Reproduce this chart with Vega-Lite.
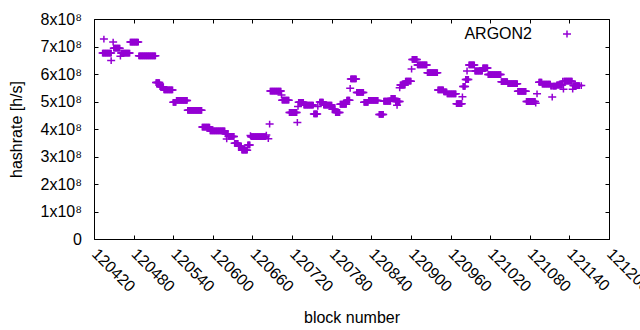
{
"$schema": "https://vega.github.io/schema/vega-lite/v6.json",
"width": 515,
"height": 220,
"autosize": {"type": "none"},
"padding": {"left": 94, "top": 19, "right": 31, "bottom": 91},
"background": "white",
"config": {
"view": {"stroke": "black", "strokeWidth": 1},
"font": "Liberation Sans",
"axis": {"labelFont": "Liberation Sans", "titleFont": "Liberation Sans", "labelFontSize": 16, "titleFontSize": 16, "titleFontWeight": "normal", "labelColor": "black", "titleColor": "black", "domain": false, "grid": false, "tickColor": "black", "tickSize": -4, "tickWidth": 1}
},
"data": {"values": [
{"b":120433,"h":6.76},{"b":120434,"h":6.76},{"b":120435,"h":6.76},{"b":120436,"h":6.76},{"b":120437,"h":6.76},{"b":120438,"h":6.76},{"b":120439,"h":6.76},{"b":120440,"h":6.76},{"b":120441,"h":6.76},{"b":120442,"h":6.76},{"b":120443,"h":6.76},{"b":120444,"h":6.76},{"b":120445,"h":6.76},{"b":120446,"h":6.76},
{"b":120435,"h":7.27},{"b":120446,"h":6.49},{"b":120449,"h":7.16},
{"b":120450,"h":6.94},{"b":120451,"h":6.94},{"b":120452,"h":6.94},{"b":120453,"h":6.94},{"b":120454,"h":6.94},{"b":120455,"h":6.94},{"b":120456,"h":6.94},{"b":120457,"h":6.94},{"b":120458,"h":6.94},{"b":120459,"h":6.94},
{"b":120460,"h":6.65},
{"b":120461,"h":6.76},{"b":120462,"h":6.76},{"b":120463,"h":6.76},{"b":120464,"h":6.76},{"b":120465,"h":6.76},{"b":120466,"h":6.76},{"b":120467,"h":6.76},{"b":120468,"h":6.76},{"b":120469,"h":6.76},{"b":120470,"h":6.76},{"b":120471,"h":6.76},{"b":120472,"h":6.76},{"b":120473,"h":6.76},{"b":120474,"h":6.76},
{"b":120475,"h":7.16},{"b":120476,"h":7.16},{"b":120477,"h":7.16},{"b":120478,"h":7.16},{"b":120479,"h":7.16},{"b":120480,"h":7.16},{"b":120481,"h":7.16},{"b":120482,"h":7.16},{"b":120483,"h":7.16},{"b":120484,"h":7.16},{"b":120485,"h":7.16},{"b":120486,"h":7.16},{"b":120487,"h":7.16},
{"b":120488,"h":6.66},{"b":120489,"h":6.66},{"b":120490,"h":6.66},{"b":120491,"h":6.66},{"b":120492,"h":6.66},{"b":120493,"h":6.66},{"b":120494,"h":6.66},{"b":120495,"h":6.66},{"b":120496,"h":6.66},{"b":120497,"h":6.66},{"b":120498,"h":6.66},{"b":120499,"h":6.66},{"b":120500,"h":6.66},{"b":120501,"h":6.66},{"b":120502,"h":6.66},{"b":120503,"h":6.66},{"b":120504,"h":6.66},{"b":120505,"h":6.66},{"b":120506,"h":6.66},{"b":120507,"h":6.66},{"b":120508,"h":6.66},{"b":120509,"h":6.66},{"b":120510,"h":6.66},{"b":120511,"h":6.66},{"b":120512,"h":6.66},{"b":120513,"h":6.66},
{"b":120514,"h":5.69},{"b":120515,"h":5.69},{"b":120516,"h":5.69},{"b":120517,"h":5.69},{"b":120518,"h":5.69},{"b":120519,"h":5.69},
{"b":120520,"h":5.54},{"b":120521,"h":5.54},{"b":120522,"h":5.54},{"b":120523,"h":5.54},{"b":120524,"h":5.54},{"b":120525,"h":5.54},
{"b":120526,"h":5.42},{"b":120527,"h":5.42},{"b":120528,"h":5.42},{"b":120529,"h":5.42},{"b":120530,"h":5.42},{"b":120531,"h":5.42},{"b":120532,"h":5.42},{"b":120533,"h":5.42},{"b":120534,"h":5.42},{"b":120535,"h":5.42},{"b":120536,"h":5.42},{"b":120537,"h":5.42},{"b":120538,"h":5.42},{"b":120539,"h":5.42},
{"b":120540,"h":4.97},{"b":120541,"h":4.97},{"b":120542,"h":4.97},{"b":120543,"h":4.97},{"b":120544,"h":4.97},
{"b":120545,"h":5.04},{"b":120546,"h":5.04},{"b":120547,"h":5.04},{"b":120548,"h":5.04},{"b":120549,"h":5.04},{"b":120550,"h":5.04},{"b":120551,"h":5.04},{"b":120552,"h":5.04},{"b":120553,"h":5.04},{"b":120554,"h":5.04},{"b":120555,"h":5.04},{"b":120556,"h":5.04},{"b":120557,"h":5.04},{"b":120558,"h":5.04},{"b":120559,"h":5.04},{"b":120560,"h":5.04},{"b":120561,"h":5.04},
{"b":120562,"h":4.68},{"b":120563,"h":4.68},{"b":120564,"h":4.68},{"b":120565,"h":4.68},{"b":120566,"h":4.68},{"b":120567,"h":4.68},{"b":120568,"h":4.68},{"b":120569,"h":4.68},{"b":120570,"h":4.68},{"b":120571,"h":4.68},{"b":120572,"h":4.68},{"b":120573,"h":4.68},{"b":120574,"h":4.68},{"b":120575,"h":4.68},{"b":120576,"h":4.68},{"b":120577,"h":4.68},{"b":120578,"h":4.68},{"b":120579,"h":4.68},{"b":120580,"h":4.68},{"b":120581,"h":4.68},{"b":120582,"h":4.68},{"b":120583,"h":4.68},
{"b":120584,"h":4.07},{"b":120585,"h":4.07},{"b":120586,"h":4.07},{"b":120587,"h":4.07},{"b":120588,"h":4.07},{"b":120589,"h":4.07},{"b":120590,"h":4.07},{"b":120591,"h":4.07},{"b":120592,"h":4.07},{"b":120593,"h":4.07},{"b":120594,"h":4.07},{"b":120595,"h":4.07},
{"b":120596,"h":3.93},{"b":120597,"h":3.93},{"b":120598,"h":3.93},{"b":120599,"h":3.93},{"b":120600,"h":3.93},{"b":120601,"h":3.93},{"b":120602,"h":3.93},{"b":120603,"h":3.93},{"b":120604,"h":3.93},{"b":120605,"h":3.93},{"b":120606,"h":3.93},{"b":120607,"h":3.93},{"b":120608,"h":3.93},{"b":120609,"h":3.93},{"b":120610,"h":3.93},{"b":120611,"h":3.93},{"b":120612,"h":3.93},{"b":120613,"h":3.93},{"b":120614,"h":3.93},{"b":120615,"h":3.93},{"b":120616,"h":3.93},{"b":120617,"h":3.93},{"b":120618,"h":3.93},
{"b":120619,"h":3.83},{"b":120620,"h":3.83},{"b":120621,"h":3.83},{"b":120622,"h":3.83},{"b":120623,"h":3.83},{"b":120621,"h":3.64},
{"b":120624,"h":3.73},{"b":120625,"h":3.73},{"b":120626,"h":3.73},{"b":120627,"h":3.73},{"b":120628,"h":3.73},{"b":120629,"h":3.73},{"b":120630,"h":3.73},{"b":120631,"h":3.73},{"b":120632,"h":3.73},
{"b":120633,"h":3.48},{"b":120634,"h":3.48},{"b":120635,"h":3.48},{"b":120636,"h":3.48},{"b":120637,"h":3.48},{"b":120638,"h":3.48},
{"b":120639,"h":3.37},{"b":120640,"h":3.37},{"b":120641,"h":3.37},{"b":120642,"h":3.37},{"b":120643,"h":3.37},
{"b":120644,"h":3.23},{"b":120645,"h":3.23},{"b":120646,"h":3.23},{"b":120647,"h":3.23},{"b":120648,"h":3.23},{"b":120649,"h":3.23},{"b":120650,"h":3.23},{"b":120651,"h":3.23},{"b":120652,"h":3.23},
{"b":120653,"h":3.42},{"b":120654,"h":3.42},{"b":120655,"h":3.42},{"b":120656,"h":3.42},{"b":120657,"h":3.76},
{"b":120658,"h":3.72},{"b":120659,"h":3.72},{"b":120660,"h":3.72},{"b":120661,"h":3.72},{"b":120662,"h":3.72},{"b":120663,"h":3.72},{"b":120664,"h":3.72},{"b":120665,"h":3.72},{"b":120666,"h":3.72},{"b":120667,"h":3.72},{"b":120668,"h":3.72},{"b":120669,"h":3.72},{"b":120670,"h":3.72},{"b":120671,"h":3.72},{"b":120672,"h":3.72},{"b":120673,"h":3.72},{"b":120674,"h":3.72},{"b":120675,"h":3.72},{"b":120676,"h":3.72},{"b":120677,"h":3.72},{"b":120678,"h":3.72},{"b":120679,"h":3.72},{"b":120680,"h":3.72},
{"b":120681,"h":3.78},{"b":120684,"h":3.65},{"b":120686,"h":4.18},
{"b":120687,"h":5.38},{"b":120688,"h":5.38},{"b":120689,"h":5.38},{"b":120690,"h":5.38},{"b":120691,"h":5.38},{"b":120692,"h":5.38},{"b":120693,"h":5.38},{"b":120694,"h":5.38},{"b":120695,"h":5.38},{"b":120696,"h":5.38},{"b":120697,"h":5.38},{"b":120698,"h":5.38},{"b":120699,"h":5.38},{"b":120700,"h":5.38},{"b":120701,"h":5.38},{"b":120702,"h":5.38},{"b":120703,"h":5.38},
{"b":120704,"h":5.24},
{"b":120705,"h":5.05},{"b":120706,"h":5.05},{"b":120707,"h":5.05},{"b":120708,"h":5.05},{"b":120709,"h":5.05},{"b":120710,"h":5.05},{"b":120711,"h":5.05},{"b":120712,"h":5.05},{"b":120713,"h":5.05},{"b":120714,"h":5.05},{"b":120715,"h":5.05},
{"b":120716,"h":4.6},{"b":120717,"h":4.6},{"b":120718,"h":4.6},{"b":120719,"h":4.6},{"b":120720,"h":4.6},{"b":120721,"h":4.6},{"b":120722,"h":4.6},{"b":120723,"h":4.6},{"b":120724,"h":4.6},{"b":120725,"h":4.6},{"b":120726,"h":4.6},{"b":120727,"h":4.6},
{"b":120728,"h":4.24},{"b":120729,"h":4.82},
{"b":120730,"h":4.97},{"b":120731,"h":4.97},{"b":120732,"h":4.97},{"b":120733,"h":4.97},{"b":120734,"h":4.97},{"b":120735,"h":4.97},{"b":120736,"h":4.97},{"b":120737,"h":4.97},
{"b":120738,"h":4.87},{"b":120739,"h":4.87},{"b":120740,"h":4.87},{"b":120741,"h":4.87},{"b":120742,"h":4.87},{"b":120743,"h":4.87},{"b":120744,"h":4.87},{"b":120745,"h":4.87},{"b":120746,"h":4.87},{"b":120747,"h":4.87},{"b":120748,"h":4.87},{"b":120749,"h":4.87},{"b":120750,"h":4.87},{"b":120751,"h":4.87},{"b":120752,"h":4.87},
{"b":120753,"h":4.55},{"b":120754,"h":4.55},{"b":120755,"h":4.55},{"b":120756,"h":4.55},{"b":120757,"h":4.55},{"b":120758,"h":4.55},
{"b":120759,"h":4.82},
{"b":120762,"h":4.98},{"b":120763,"h":4.98},{"b":120764,"h":4.98},{"b":120765,"h":4.98},{"b":120766,"h":4.98},{"b":120767,"h":4.98},
{"b":120768,"h":4.87},{"b":120769,"h":4.87},{"b":120770,"h":4.87},{"b":120771,"h":4.87},{"b":120772,"h":4.87},{"b":120773,"h":4.87},{"b":120774,"h":4.87},{"b":120775,"h":4.87},{"b":120776,"h":4.87},{"b":120777,"h":4.87},{"b":120778,"h":4.87},{"b":120779,"h":4.87},{"b":120780,"h":4.87},
{"b":120781,"h":4.72},{"b":120782,"h":4.72},{"b":120783,"h":4.72},{"b":120784,"h":4.72},{"b":120785,"h":4.72},
{"b":120786,"h":4.6},{"b":120787,"h":4.6},{"b":120788,"h":4.6},{"b":120789,"h":4.6},{"b":120790,"h":4.6},{"b":120791,"h":4.6},{"b":120792,"h":4.6},
{"b":120793,"h":4.9},{"b":120794,"h":4.9},{"b":120795,"h":4.9},{"b":120796,"h":4.9},{"b":120797,"h":4.9},{"b":120798,"h":4.9},{"b":120799,"h":4.9},{"b":120800,"h":4.9},{"b":120801,"h":4.9},{"b":120802,"h":4.9},
{"b":120803,"h":5.05},{"b":120804,"h":5.05},{"b":120805,"h":5.05},{"b":120806,"h":5.05},{"b":120807,"h":5.05},
{"b":120808,"h":5.48},
{"b":120809,"h":5.82},{"b":120810,"h":5.82},{"b":120811,"h":5.82},{"b":120812,"h":5.82},{"b":120813,"h":5.82},{"b":120814,"h":5.82},{"b":120815,"h":5.82},{"b":120816,"h":5.82},{"b":120817,"h":5.82},
{"b":120818,"h":5.33},{"b":120819,"h":5.33},{"b":120820,"h":5.33},{"b":120821,"h":5.33},{"b":120822,"h":5.33},{"b":120823,"h":5.33},{"b":120824,"h":5.33},{"b":120825,"h":5.33},{"b":120826,"h":5.33},{"b":120827,"h":5.33},{"b":120828,"h":5.33},
{"b":120829,"h":4.97},{"b":120830,"h":4.97},{"b":120831,"h":4.97},{"b":120832,"h":4.97},{"b":120833,"h":4.97},{"b":120834,"h":4.97},{"b":120835,"h":4.97},
{"b":120836,"h":5.04},{"b":120837,"h":5.04},{"b":120838,"h":5.04},{"b":120839,"h":5.04},{"b":120840,"h":5.04},{"b":120841,"h":5.04},{"b":120842,"h":5.04},{"b":120843,"h":5.04},{"b":120844,"h":5.04},{"b":120845,"h":5.04},{"b":120846,"h":5.04},{"b":120847,"h":5.04},{"b":120848,"h":5.04},{"b":120849,"h":5.04},{"b":120850,"h":5.04},
{"b":120852,"h":4.53},{"b":120853,"h":4.53},{"b":120854,"h":4.53},{"b":120855,"h":4.53},{"b":120856,"h":4.53},{"b":120857,"h":4.53},{"b":120858,"h":4.53},
{"b":120859,"h":5.01},{"b":120860,"h":5.01},{"b":120861,"h":5.01},{"b":120862,"h":5.01},{"b":120863,"h":5.01},{"b":120864,"h":5.01},{"b":120865,"h":5.01},{"b":120866,"h":5.01},{"b":120867,"h":5.01},{"b":120868,"h":5.01},{"b":120869,"h":5.01},
{"b":120870,"h":5.11},{"b":120871,"h":5.11},{"b":120872,"h":5.11},{"b":120873,"h":5.11},{"b":120874,"h":5.11},{"b":120875,"h":5.11},{"b":120876,"h":5.11},
{"b":120877,"h":5.0},{"b":120878,"h":5.0},{"b":120879,"h":5.0},{"b":120880,"h":5.0},{"b":120881,"h":5.0},{"b":120882,"h":5.0},{"b":120883,"h":5.0},
{"b":120879,"h":4.86},{"b":120883,"h":5.5},
{"b":120884,"h":5.6},{"b":120885,"h":5.6},{"b":120886,"h":5.6},{"b":120887,"h":5.6},{"b":120888,"h":5.6},{"b":120889,"h":5.6},{"b":120890,"h":5.6},{"b":120891,"h":5.6},
{"b":120892,"h":5.74},{"b":120893,"h":5.74},{"b":120894,"h":5.74},{"b":120895,"h":5.74},{"b":120896,"h":5.74},{"b":120897,"h":5.74},{"b":120898,"h":5.74},{"b":120899,"h":5.74},{"b":120900,"h":5.74},
{"b":120901,"h":6.18},
{"b":120902,"h":6.53},{"b":120903,"h":6.53},{"b":120904,"h":6.53},{"b":120905,"h":6.53},{"b":120906,"h":6.53},{"b":120907,"h":6.53},{"b":120908,"h":6.53},{"b":120909,"h":6.53},
{"b":120910,"h":6.33},{"b":120911,"h":6.33},{"b":120912,"h":6.33},{"b":120913,"h":6.33},{"b":120914,"h":6.33},{"b":120915,"h":6.33},{"b":120916,"h":6.33},{"b":120917,"h":6.33},{"b":120918,"h":6.33},{"b":120919,"h":6.33},{"b":120920,"h":6.33},{"b":120921,"h":6.33},{"b":120922,"h":6.33},{"b":120923,"h":6.33},{"b":120924,"h":6.33},
{"b":120925,"h":6.05},{"b":120926,"h":6.05},{"b":120927,"h":6.05},{"b":120928,"h":6.05},{"b":120929,"h":6.05},{"b":120930,"h":6.05},{"b":120931,"h":6.05},{"b":120932,"h":6.05},{"b":120933,"h":6.05},{"b":120934,"h":6.05},{"b":120935,"h":6.05},{"b":120936,"h":6.05},{"b":120937,"h":6.05},{"b":120938,"h":6.05},{"b":120939,"h":6.05},{"b":120940,"h":6.05},
{"b":120941,"h":5.42},{"b":120942,"h":5.42},{"b":120943,"h":5.42},{"b":120944,"h":5.42},{"b":120945,"h":5.42},{"b":120946,"h":5.42},{"b":120947,"h":5.42},{"b":120948,"h":5.42},{"b":120949,"h":5.42},
{"b":120950,"h":5.35},{"b":120951,"h":5.35},{"b":120952,"h":5.35},{"b":120953,"h":5.35},{"b":120954,"h":5.35},
{"b":120955,"h":5.28},{"b":120956,"h":5.28},{"b":120957,"h":5.28},{"b":120958,"h":5.28},{"b":120959,"h":5.28},{"b":120960,"h":5.28},{"b":120961,"h":5.28},{"b":120962,"h":5.28},{"b":120963,"h":5.28},{"b":120964,"h":5.28},{"b":120965,"h":5.28},{"b":120966,"h":5.28},{"b":120967,"h":5.28},{"b":120968,"h":5.28},
{"b":120969,"h":4.92},{"b":120970,"h":4.92},{"b":120971,"h":4.92},{"b":120972,"h":4.92},{"b":120973,"h":4.92},{"b":120974,"h":4.92},{"b":120975,"h":4.92},{"b":120976,"h":4.92},{"b":120977,"h":4.92},
{"b":120978,"h":5.17},
{"b":120979,"h":5.55},{"b":120980,"h":5.55},{"b":120981,"h":5.55},{"b":120982,"h":5.55},
{"b":120983,"h":5.8},{"b":120984,"h":5.8},{"b":120985,"h":5.8},{"b":120986,"h":5.8},{"b":120987,"h":5.8},
{"b":120985,"h":6.11},
{"b":120988,"h":6.33},{"b":120989,"h":6.33},{"b":120990,"h":6.33},{"b":120991,"h":6.33},{"b":120992,"h":6.33},{"b":120993,"h":6.33},{"b":120994,"h":6.33},{"b":120995,"h":6.33},{"b":120996,"h":6.33},
{"b":120997,"h":6.11},{"b":120998,"h":6.11},{"b":120999,"h":6.11},{"b":121000,"h":6.11},{"b":121001,"h":6.11},{"b":121002,"h":6.11},{"b":121003,"h":6.11},{"b":121004,"h":6.11},{"b":121005,"h":6.11},{"b":121006,"h":6.11},{"b":121007,"h":6.11},{"b":121008,"h":6.11},
{"b":121009,"h":6.22},{"b":121010,"h":6.22},{"b":121011,"h":6.22},{"b":121012,"h":6.22},{"b":121013,"h":6.22},{"b":121014,"h":6.22},{"b":121015,"h":6.22},{"b":121016,"h":6.22},
{"b":121017,"h":5.98},{"b":121018,"h":5.98},{"b":121019,"h":5.98},{"b":121020,"h":5.98},{"b":121021,"h":5.98},{"b":121022,"h":5.98},{"b":121023,"h":5.98},{"b":121024,"h":5.98},{"b":121025,"h":5.98},{"b":121026,"h":5.98},{"b":121027,"h":5.98},{"b":121028,"h":5.98},{"b":121029,"h":5.98},{"b":121030,"h":5.98},{"b":121031,"h":5.98},{"b":121032,"h":5.98},{"b":121033,"h":5.98},{"b":121034,"h":5.98},{"b":121035,"h":5.98},{"b":121036,"h":5.98},
{"b":121037,"h":5.72},{"b":121038,"h":5.72},{"b":121039,"h":5.72},{"b":121040,"h":5.72},{"b":121041,"h":5.72},{"b":121042,"h":5.72},{"b":121043,"h":5.72},{"b":121044,"h":5.72},{"b":121045,"h":5.72},{"b":121046,"h":5.72},
{"b":121047,"h":5.65},{"b":121048,"h":5.65},{"b":121049,"h":5.65},{"b":121050,"h":5.65},{"b":121051,"h":5.65},{"b":121052,"h":5.65},{"b":121053,"h":5.65},{"b":121054,"h":5.65},{"b":121055,"h":5.65},{"b":121056,"h":5.65},{"b":121057,"h":5.65},{"b":121058,"h":5.65},{"b":121059,"h":5.65},{"b":121060,"h":5.65},{"b":121061,"h":5.65},
{"b":121062,"h":5.37},{"b":121063,"h":5.37},{"b":121064,"h":5.37},{"b":121065,"h":5.37},{"b":121066,"h":5.37},{"b":121067,"h":5.37},{"b":121068,"h":5.37},{"b":121069,"h":5.37},{"b":121070,"h":5.37},{"b":121071,"h":5.37},{"b":121072,"h":5.37},{"b":121073,"h":5.37},{"b":121074,"h":5.37},
{"b":121075,"h":5.0},{"b":121076,"h":5.0},{"b":121077,"h":5.0},{"b":121078,"h":5.0},{"b":121079,"h":5.0},{"b":121080,"h":5.0},{"b":121081,"h":5.0},{"b":121082,"h":5.0},{"b":121083,"h":5.0},{"b":121084,"h":5.0},{"b":121085,"h":5.0},{"b":121086,"h":5.0},{"b":121087,"h":5.0},{"b":121088,"h":5.0},
{"b":121089,"h":4.94},{"b":121091,"h":5.28},
{"b":121094,"h":5.7},{"b":121095,"h":5.7},{"b":121096,"h":5.7},{"b":121097,"h":5.7},{"b":121098,"h":5.7},
{"b":121099,"h":5.63},{"b":121100,"h":5.63},{"b":121101,"h":5.63},{"b":121102,"h":5.63},{"b":121103,"h":5.63},{"b":121104,"h":5.63},{"b":121105,"h":5.63},{"b":121106,"h":5.63},{"b":121107,"h":5.63},{"b":121108,"h":5.63},{"b":121109,"h":5.63},{"b":121110,"h":5.63},{"b":121111,"h":5.63},
{"b":121112,"h":5.56},{"b":121113,"h":5.56},{"b":121115,"h":5.56},{"b":121116,"h":5.56},{"b":121117,"h":5.56},{"b":121118,"h":5.56},{"b":121119,"h":5.56},{"b":121120,"h":5.56},
{"b":121114,"h":5.16},
{"b":121121,"h":5.6},{"b":121122,"h":5.6},{"b":121123,"h":5.6},{"b":121124,"h":5.6},{"b":121125,"h":5.6},{"b":121126,"h":5.6},{"b":121127,"h":5.6},{"b":121128,"h":5.6},{"b":121129,"h":5.6},
{"b":121130,"h":5.74},{"b":121132,"h":5.74},{"b":121133,"h":5.74},{"b":121134,"h":5.74},{"b":121135,"h":5.74},{"b":121136,"h":5.74},{"b":121137,"h":5.74},{"b":121138,"h":5.74},{"b":121139,"h":5.74},{"b":121140,"h":5.74},{"b":121141,"h":5.74},{"b":121142,"h":5.74},{"b":121143,"h":5.74},{"b":121144,"h":5.74},
{"b":121131,"h":5.45},{"b":121145,"h":5.45},
{"b":121146,"h":5.58},{"b":121147,"h":5.58},{"b":121148,"h":5.58},{"b":121149,"h":5.58},{"b":121150,"h":5.58},{"b":121151,"h":5.58},{"b":121152,"h":5.58},{"b":121153,"h":5.58},{"b":121154,"h":5.58},{"b":121155,"h":5.58},
{"b":121158,"h":5.58}
]},
"layer": [
{
"mark": {"type": "point", "shape": "M-1,0L1,0M0,-0.85L0,0.85", "filled": false, "size": 64, "strokeWidth": 1.5, "opacity": 1},
"encoding": {
"x": {"field": "b", "type": "quantitative", "scale": {"domain": [120420, 121200], "nice": false, "zero": false},
"axis": {"values": [120420,120480,120540,120600,120660,120720,120780,120840,120900,120960,121020,121080,121140,121200], "format": "d", "labelAngle": 45, "labelAlign": "left", "labelBaseline": "middle", "labelPadding": 16, "labelOverlap": false, "labelFlush": false, "labelBound": false, "title": "block number", "titleY": 83, "titleBaseline": "alphabetic"}},
"y": {"field": "h", "type": "quantitative", "scale": {"domain": [0, 8], "nice": false},
"axis": {"values": [0,1,2,3,4,5,6,7,8], "labelExpr": "datum.value == 0 ? '0' : datum.value + 'x10⁸'", "labelPadding": 16.5, "labelFlush": false, "title": "hashrate [h/s]", "titleX": -73, "titleBaseline": "alphabetic"}},
"color": {"datum": "ARGON2", "type": "nominal", "scale": {"range": ["#9400d3"]},
"legend": {"orient": "none", "legendX": 465, "legendY": 7, "title": null, "padding": 0, "labelFont": "Liberation Sans", "labelFontSize": 16, "labelColor": "black", "labelAlign": "right", "labelOffset": -43, "symbolType": "M-1,0L1,0M0,-0.85L0,0.85", "symbolSize": 64, "symbolStrokeWidth": 1.5, "symbolStrokeColor": "#9400d3", "symbolOpacity": 1}}
}
},
{
"mark": {"type": "point", "opacity": 0},
"encoding": {
"x": {"field": "b", "type": "quantitative", "axis": {"orient": "top", "labels": false, "title": null, "values": [120420,120480,120540,120600,120660,120720,120780,120840,120900,120960,121020,121080,121140,121200]}},
"y": {"field": "h", "type": "quantitative", "axis": {"orient": "right", "labels": false, "title": null, "values": [0,1,2,3,4,5,6,7,8]}}
}
}
],
"resolve": {"axis": {"x": "independent", "y": "independent"}}
}
